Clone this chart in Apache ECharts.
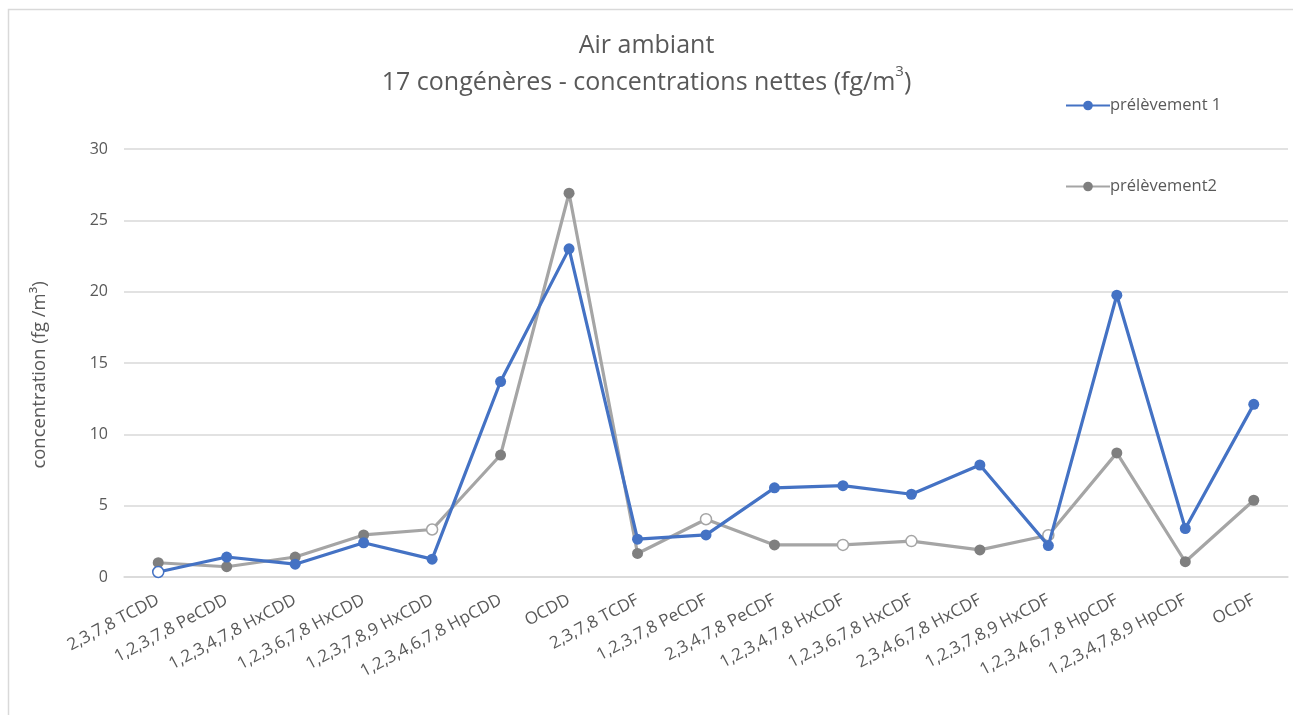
<!DOCTYPE html>
<html style="height: 100%">
<head>
    <meta charset="UTF-8">
    <title>Air ambiant - 17 congénères</title>
    <script src="https://cdn.jsdelivr.net/npm/echarts/dist/echarts.min.js"></script>
</head>
<body style="height: 100%; margin: 0; background: #fff">
    <div id="main" style="width: 1293px; height: 715px"></div>
    <script type="text/javascript">
        // congénères
        var categories = ['2,3,7,8 TCDD', '1,2,3,7,8 PeCDD', '1,2,3,4,7,8 HxCDD', '1,2,3,6,7,8 HxCDD',
            '1,2,3,7,8,9 HxCDD', '1,2,3,4,6,7,8 HpCDD', 'OCDD', '2,3,7,8 TCDF', '1,2,3,7,8 PeCDF',
            '2,3,4,7,8 PeCDF', '1,2,3,4,7,8 HxCDF', '1,2,3,6,7,8 HxCDF', '2,3,4,6,7,8 HxCDF',
            '1,2,3,7,8,9 HxCDF', '1,2,3,4,6,7,8 HpCDF', '1,2,3,4,7,8,9 HpCDF', 'OCDF'];

        var prelevement1 = [0.35, 1.4, 0.9, 2.4, 1.25, 13.7, 23.0, 2.65, 2.95, 6.25, 6.4, 5.8, 7.85, 2.2, 19.75, 3.4, 12.1];
        var prelevement2 = [1.0, 0.72, 1.4, 2.95, 3.33, 8.55, 26.9, 1.65, 4.05, 2.25, 2.25, 2.52, 1.9, 2.93, 8.7, 1.07, 5.38];

        // points marqués en cercle vide
        var hollow1 = [0];
        var hollow2 = [4, 8, 10, 11, 13];

        var yTicks = [0, 5, 10, 15, 20, 25, 30];

        var blue = '#4472C4';
        var greyLine = '#A5A5A5';
        var greyMark = '#7F7F7F';
        var textColor = '#595959';
        var font = 'Open Sans';

        function buildData(values, hollow, border) {
            return values.map(function (v, i) {
                if (hollow.indexOf(i) >= 0) {
                    return { value: v, itemStyle: { color: '#fff', borderColor: border, borderWidth: 1.5 } };
                }
                return v;
            });
        }

        var myChart = echarts.init(document.getElementById('main'));

        var option = {
            backgroundColor: '#fff',
            textStyle: { fontFamily: font },
            graphic: [{
                type: 'rect',
                shape: { x: 8.5, y: 9.5, width: 1300, height: 720 },
                style: { fill: 'none', stroke: '#D9D9D9', lineWidth: 1.5 },
                silent: true
            }],
            title: {
                text: 'Air ambiant\n17 congénères - concentrations nettes (fg/m{sup|3})',
                left: 'center',
                top: 22,
                textStyle: {
                    fontFamily: font,
                    fontSize: 25,
                    fontWeight: 'normal',
                    color: textColor,
                    lineHeight: 37,
                    rich: {
                        sup: { fontSize: 15, verticalAlign: 'top', padding: [0, 0, 6, 0], color: textColor, fontFamily: font }
                    }
                }
            },
            legend: {
                orient: 'vertical',
                left: 1060,
                top: 92,
                itemWidth: 44,
                itemHeight: 12,
                itemGap: 64,
                textStyle: { fontFamily: font, fontSize: 16.5, color: textColor, padding: [0, 0, 0, -5] },
                data: ['prélèvement 1', 'prélèvement2']
            },
            grid: {
                left: 124,
                right: 5,
                top: 149,
                bottom: 138
            },
            xAxis: {
                type: 'category',
                data: categories,
                boundaryGap: true,
                axisLine: { lineStyle: { color: '#D9D9D9', width: 1.5 } },
                axisTick: { show: false },
                axisLabel: {
                    interval: 0,
                    rotate: 28,
                    margin: 22,
                    fontSize: 17,
                    fontFamily: font,
                    color: textColor
                }
            },
            yAxis: {
                type: 'value',
                min: yTicks[0],
                max: yTicks[yTicks.length - 1],
                interval: 5,
                name: 'concentration (fg /m³)',
                nameLocation: 'middle',
                nameGap: 75,
                nameTextStyle: { fontFamily: font, fontSize: 18.5, color: textColor, padding: [0, 24, 0, 0] },
                axisLine: { show: false },
                axisTick: { show: false },
                axisLabel: { fontSize: 16, fontFamily: font, color: textColor, margin: 16 },
                splitLine: { lineStyle: { color: '#D9D9D9', width: 1.5 } }
            },
            series: [{
                name: 'prélèvement 1',
                type: 'line',
                data: buildData(prelevement1, hollow1, blue),
                symbol: 'circle',
                symbolSize: 11,
                lineStyle: { color: blue, width: 3.2 },
                itemStyle: { color: blue },
                z: 3
            }, {
                name: 'prélèvement2',
                type: 'line',
                data: buildData(prelevement2, hollow2, greyLine),
                symbol: 'circle',
                symbolSize: 11,
                lineStyle: { color: greyLine, width: 3.2 },
                itemStyle: { color: greyMark },
                z: 2
            }]
        };

        myChart.setOption(option);
    </script>
</body>
</html>
